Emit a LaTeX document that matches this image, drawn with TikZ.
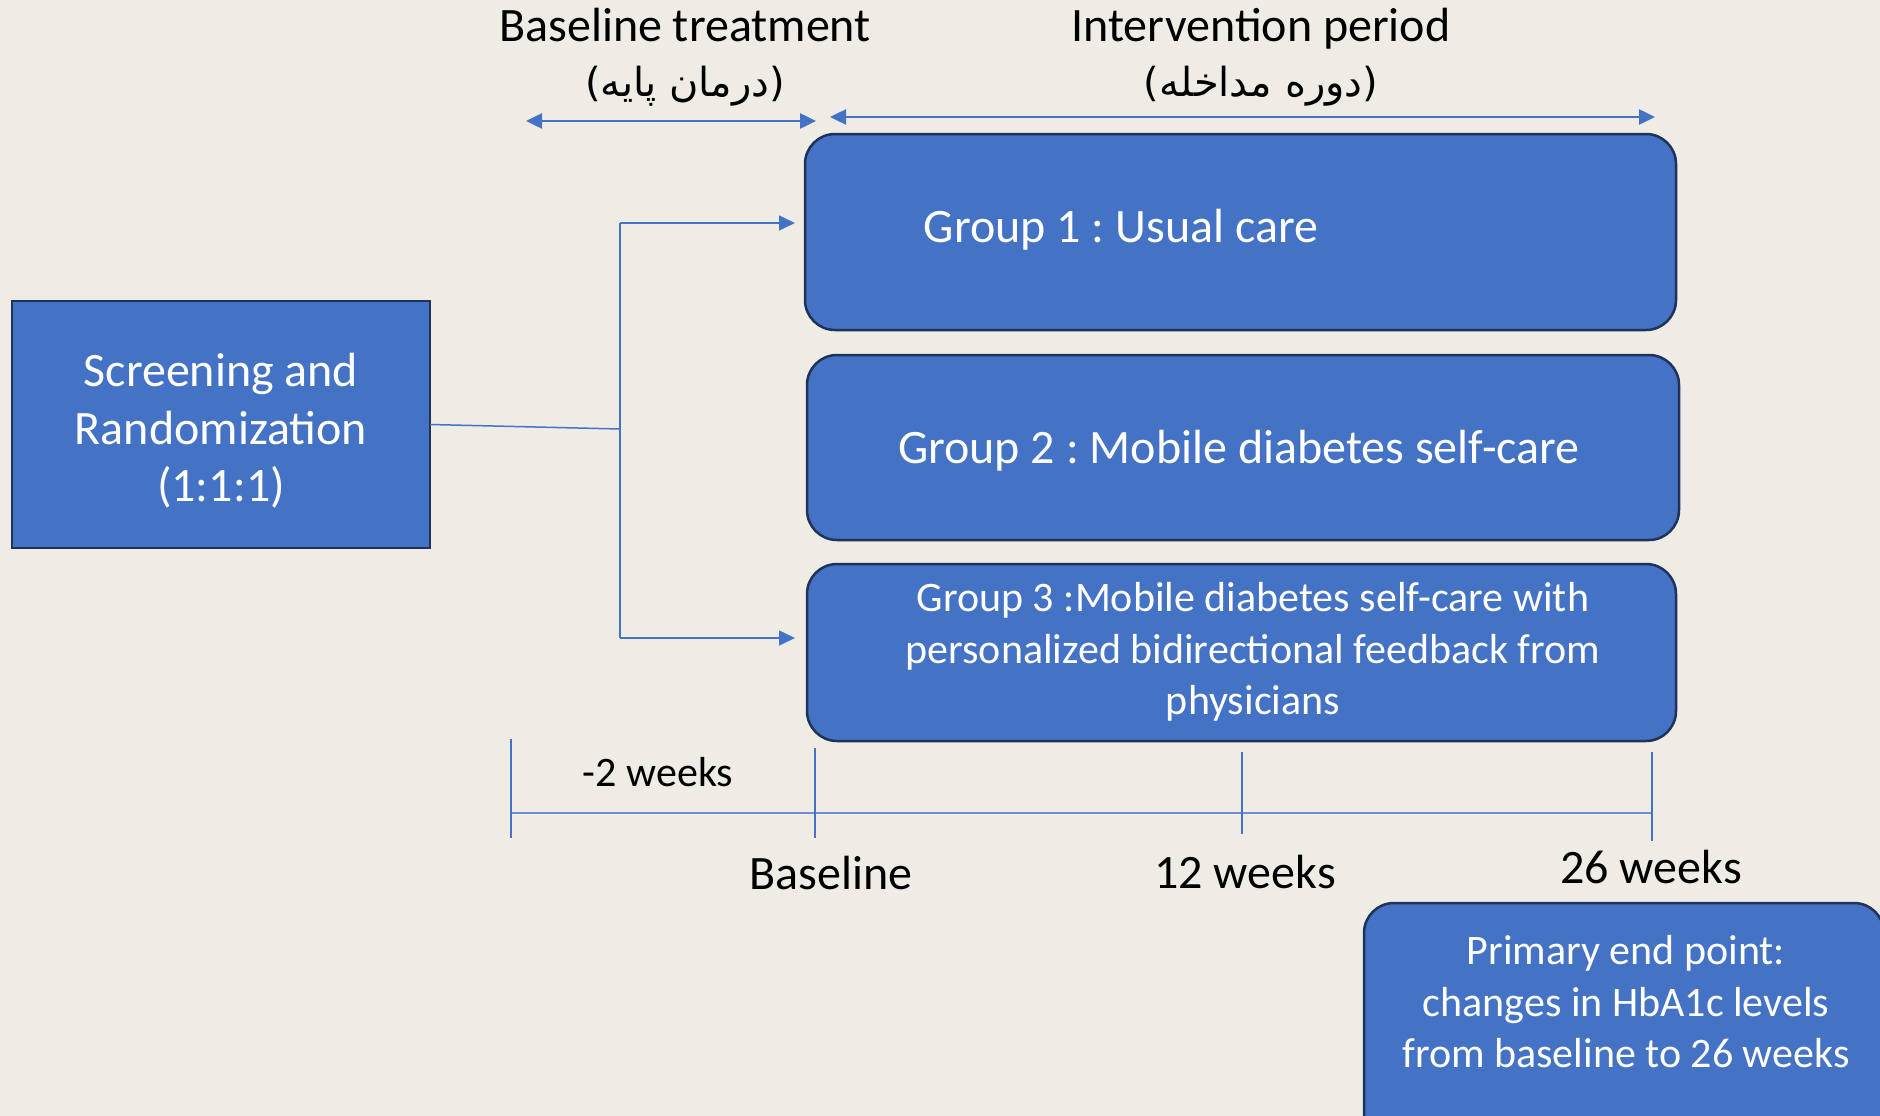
\documentclass[tikz,border=0pt]{standalone}
\usepackage{fontspec}
\setmainfont{Carlito}
\newfontfamily\arabicfont[Script=Arabic]{DejaVu Sans}
\newfontfamily\parenfont{DejaVu Sans}
\TeXXeTstate=1
\frenchspacing
\usetikzlibrary{arrows.meta}
\definecolor{bg}{RGB}{239,236,230}
\definecolor{boxblue}{RGB}{68,114,196}
\definecolor{boxedge}{RGB}{31,50,90}
\definecolor{linkblue}{RGB}{68,114,196}
\definecolor{axisblue}{RGB}{110,145,210}
\begin{document}
\begin{tikzpicture}[x=1pt,y=-1pt,
  plainbox/.style={draw=boxedge, line width=2.5pt, fill=boxblue, inner sep=0pt, outer sep=0pt},
  groupbox/.style={plainbox, rounded corners=30pt},
  big/.style={font=\fontsize{48}{57.6}\selectfont, inner sep=0pt, align=center},
  small/.style={font=\fontsize{42}{51.5}\selectfont, inner sep=0pt, align=center},
  wt/.style={text=white},
  bk/.style={text=black},
  link/.style={draw=linkblue, line width=1.5pt},
  axis/.style={draw=axisblue, line width=2.5pt},
  tick/.style={draw=linkblue, line width=1.2pt},
  arr/.style={-{Triangle[length=16pt,width=15pt]}},
  darr/.style={{Triangle[length=16pt,width=15pt]}-{Triangle[length=16pt,width=15pt]}},
  fa/.style={font=\fontsize{40}{48}\selectfont, inner sep=0pt}
]
\fill[bg] (0,0) rectangle (1880,1116);
\useasboundingbox (0,0) rectangle (1880,1116);

% boxes
\node[plainbox, minimum width=418pt, minimum height=247pt] (scr) at (221,424.5) {};
\node[groupbox, minimum width=871pt, minimum height=196pt] (g1) at (1240.5,232) {};
\node[groupbox, minimum width=872pt, minimum height=185pt] (g2) at (1243,447.5) {};
\node[groupbox, minimum width=869pt, minimum height=177pt] (g3) at (1241.5,652.5) {};
\begin{scope}
\clip (0,0) rectangle (1880,1116);
\node[groupbox, minimum width=520pt, minimum height=267pt] (ep) at (1624,1036.5) {};
\end{scope}

% box texts
\node[big, wt] (scrtxt) at (221,431) {Screening and\\Randomization\\(1:1:1)};
\node[big, wt] (g1txt) at (1121,230) {Group 1 : Usual care};
\node[big, wt] (g2txt) at (1239,451) {Group 2 : Mobile diabetes self-care};
\node[small, wt] (g3txt) at (1253,652) {Group 3 :Mobile diabetes self-care with\\personalized bidirectional feedback from\\physicians};
\node[small, wt] (eptxt) at (1626,1002) {Primary end point:\\changes in HbA1c levels\\from baseline to 26 weeks};

% connectors
\coordinate (j) at (620,429);
\coordinate (jt) at (620,223);
\coordinate (jb) at (620,638);
\draw[link] (scr.east) -- (j);
\draw[link] (jt) -- (jb);
\draw[link, arr, shorten >=10pt] (jt) -- (jt -| g1.west);
\draw[link, arr, shorten >=12pt] (jb) -- (jb -| g3.west);

% top period arrows
\coordinate (b0) at (526,121);
\coordinate (b1) at (816,121);
\coordinate (i0) at (830,117);
\coordinate (i1) at (1655,117);
\draw[link, line width=2.5pt, darr] (b0) -- (b1);
\draw[link, line width=2.5pt, darr] (i0) -- (i1);
\node[big, bk, anchor=base] (bt) at (685,42) {Baseline treatment};
\node[big, bk, anchor=base] (ip) at (1261,42) {Intervention period};
\node[fa, anchor=base] (btfa) at (685,96) {{\parenfont(}\arabicfont\beginR درمان پایه\endR{\parenfont)}};
\node[fa, anchor=base] (ipfa) at (1261,96) {{\parenfont(}\arabicfont\beginR دوره مداخله\endR{\parenfont)}};

% timeline
\coordinate (t0) at (511,813);
\coordinate (t3) at (1652,813);
\draw[axis] (t0) -- (t3);
\coordinate (k0a) at (511,739);  \coordinate (k0b) at (511,838);
\coordinate (k1a) at (815,748);  \coordinate (k1b) at (815,838);
\coordinate (k2a) at (1242,752); \coordinate (k2b) at (1242,834);
\coordinate (k3a) at (1652,752); \coordinate (k3b) at (1652,841);
\draw[tick] (k0a) -- (k0b);
\draw[tick] (k1a) -- (k1b);
\draw[tick] (k2a) -- (k2b);
\draw[tick] (k3a) -- (k3b);
\node[small, bk] (m2) at (658,772) {-2 weeks};
\node[big, bk] (bl) at (831,873) {Baseline};
\node[big, bk] (w12) at (1245,872) {12 weeks};
\node[big, bk] (w26) at (1651,867) {26 weeks};
\end{tikzpicture}
\end{document}
